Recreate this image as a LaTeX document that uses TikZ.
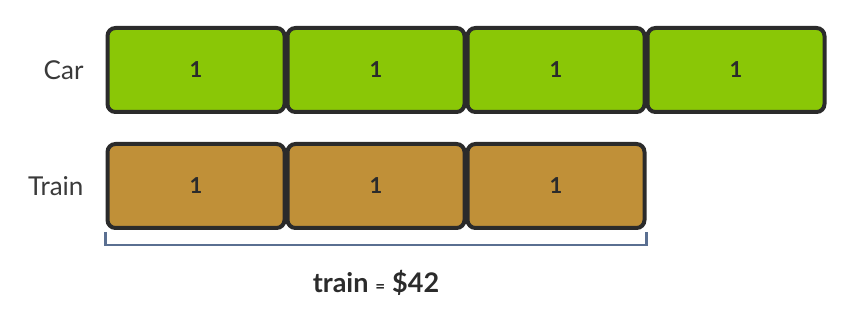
\documentclass[tikz,border=0pt]{standalone}
\usepackage{fontspec}
\setmainfont{Lato}
\definecolor{cargreen}{HTML}{8AC706}
\definecolor{traintan}{HTML}{C09038}
\definecolor{edgedark}{HTML}{2B2B2B}
\definecolor{bracketblue}{HTML}{5A6F91}
\definecolor{labelgray}{HTML}{3A3A3A}
\begin{document}
\begin{tikzpicture}[x=1pt,y=-1pt,
  unitbox/.style={draw=edgedark, line width=4pt, rounded corners=8pt,
    minimum width=177pt, minimum height=84pt, inner sep=0pt,
    font=\fontsize{22}{26}\selectfont\bfseries, text=edgedark},
  carbox/.style={unitbox, fill=cargreen},
  trainbox/.style={unitbox, fill=traintan},
  rowlabel/.style={font=\fontsize{26}{30}\selectfont, text=labelgray, anchor=east},
  bracketline/.style={draw=bracketblue, line width=2.5pt}]
\useasboundingbox (0,0) rectangle (852,320);
\node[carbox] (c1) at (196,70) {1};
\node[carbox] (c2) at (376,70) {1};
\node[carbox] (c3) at (556,70) {1};
\node[carbox] (c4) at (736,70) {1};
\node[trainbox] (t1) at (196,186) {1};
\node[trainbox] (t2) at (376,186) {1};
\node[trainbox] (t3) at (556,186) {1};
\node[rowlabel] (carlabel) at (87,70) {Car};
\node[rowlabel] (trainlabel) at (87,186) {Train};
\coordinate (bl) at ([yshift=-15pt]t1.south west);
\coordinate (br) at ([yshift=-15pt]t3.south east);
\draw[bracketline] ([yshift=-2pt]t1.south west) -- (bl) -- (br) -- ([yshift=-2pt]t3.south east);
\node[font=\fontsize{27}{32}\selectfont, text=edgedark] (total) at (376,283)
  {\textbf{train} {\fontsize{17}{20}\selectfont\bfseries =} \textbf{\$42}};
\end{tikzpicture}
\end{document}
